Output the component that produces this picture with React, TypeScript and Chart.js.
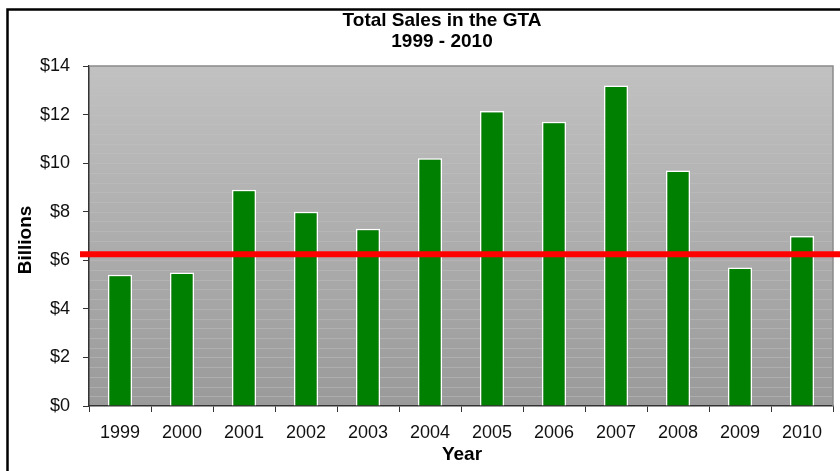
import React, { useEffect, useRef } from "react";
import { Chart, registerables } from "chart.js";

Chart.register(...registerables);

const years = ["1999", "2000", "2001", "2002", "2003", "2004", "2005", "2006", "2007", "2008", "2009", "2010"];
const sales = [5.4, 5.5, 8.9, 8.0, 7.3, 10.2, 12.15, 11.7, 13.2, 9.7, 5.7, 7.0];
const referenceLine = 6.25;
const yMin = 0;
const yMax = 14;
const yStep = 2;
const titleLines = ["Total Sales in the GTA", "1999 - 2010"];
const xTitle = "Year";
const yTitle = "Billions";

const FONT = "'Liberation Sans', Arial, sans-serif";

const decorPlugin = {
  id: "decor",
  beforeDraw(chart: any) {
    const { ctx, chartArea } = chart;
    const { left, right, top, bottom } = chartArea;
    ctx.save();
    ctx.fillStyle = "#ffffff";
    ctx.fillRect(0, 0, chart.width, chart.height);
    const g = ctx.createLinearGradient(0, top, 0, bottom);
    g.addColorStop(0, "#c1c1c1");
    g.addColorStop(1, "#9a9a9a");
    ctx.fillStyle = g;
    ctx.fillRect(left, top, right - left, bottom - top);
    // faint banding lines of the gradient
    const ys = chart.scales.y;
    for (let v = 0.4; v < yMax; v += 0.4) {
      const py = Math.round(ys.getPixelForValue(v)) + 0.5;
      const frac = (py - top) / (bottom - top);
      ctx.strokeStyle = `rgba(255,255,255,${(0.03 + 0.16 * frac).toFixed(3)})`;
      ctx.lineWidth = 1;
      ctx.beginPath();
      ctx.moveTo(left, py);
      ctx.lineTo(right, py);
      ctx.stroke();
    }
    ctx.restore();
  },
  afterDatasetsDraw(chart: any) {
    const { ctx, chartArea } = chart;
    const { left, right, top, bottom } = chartArea;
    ctx.save();
    ctx.strokeStyle = "#8a8a8a";
    ctx.lineWidth = 1.5;
    ctx.beginPath();
    ctx.moveTo(left, top);
    ctx.lineTo(right, top);
    ctx.lineTo(right, bottom);
    ctx.stroke();
    const ry = chart.scales.y.getPixelForValue(referenceLine);
    ctx.strokeStyle = "#ff0000";
    ctx.lineWidth = 6;
    ctx.beginPath();
    ctx.moveTo(left - 9, ry);
    ctx.lineTo(chart.width, ry);
    ctx.stroke();
    ctx.restore();
  },
  afterDraw(chart: any) {
    const { ctx } = chart;
    ctx.save();
    ctx.strokeStyle = "#000000";
    ctx.lineWidth = 2.5;
    ctx.beginPath();
    ctx.moveTo(7.5, chart.height);
    ctx.lineTo(7.5, 9.5);
    ctx.lineTo(chart.width, 9.5);
    ctx.stroke();
    ctx.fillStyle = "#000000";
    ctx.textAlign = "center";
    ctx.textBaseline = "middle";
    ctx.font = `bold 19px ${FONT}`;
    ctx.fillText(titleLines[0], 442, 21);
    ctx.fillText(titleLines[1], 442, 42);
    ctx.fillText(xTitle, 462, 455);
    ctx.translate(26, 240);
    ctx.rotate(-Math.PI / 2);
    ctx.fillText(yTitle, 0, 0);
    ctx.restore();
  },
};

export default function App() {
  const ref = useRef<HTMLCanvasElement | null>(null);
  useEffect(() => {
    if (!ref.current) return;
    const chart = new Chart(ref.current, {
      type: "bar",
      data: {
        labels: years,
        datasets: [
          {
            data: sales,
            backgroundColor: "#008000",
            borderColor: "#ffffff",
            borderWidth: 1.5,
            barPercentage: 0.39,
            categoryPercentage: 1,
          },
        ],
      },
      options: {
        animation: false,
        responsive: false,
        maintainAspectRatio: false,
        layout: { padding: { left: 0, top: 66, right: 7, bottom: 0 } },
        plugins: {
          legend: { display: false },
          title: { display: false },
          tooltip: { enabled: false },
        },
        scales: {
          x: {
            type: "category",
            offset: true,
            grid: {
              display: true,
              drawOnChartArea: false,
              drawTicks: true,
              tickLength: 6,
              tickColor: "#333333",
              offset: true,
            },
            border: { display: true, color: "#333333", width: 1.5 },
            ticks: {
              font: { family: FONT, size: 18 },
              color: "#111111",
              padding: 10,
              maxRotation: 0,
            },
            afterFit: (s: any) => {
              s.height = 65;
            },
          },
          y: {
            min: yMin,
            max: yMax,
            grid: {
              display: true,
              drawOnChartArea: false,
              drawTicks: true,
              tickLength: 6,
              tickColor: "#333333",
            },
            border: { display: true, color: "#333333", width: 1.5 },
            ticks: {
              stepSize: yStep,
              font: { family: FONT, size: 18 },
              color: "#111111",
              padding: 13,
              callback: (v: any) => "$" + v,
            },
            afterFit: (s: any) => {
              s.width = 89;
            },
          },
        },
      },
      plugins: [decorPlugin],
    });
    return () => chart.destroy();
  }, []);
  return (
    <div style={{ position: "absolute", left: 0, top: 0, width: 840, height: 471 }}>
      <canvas ref={ref} width={840} height={471} style={{ display: "block", width: 840, height: 471 }} />
    </div>
  );
}
